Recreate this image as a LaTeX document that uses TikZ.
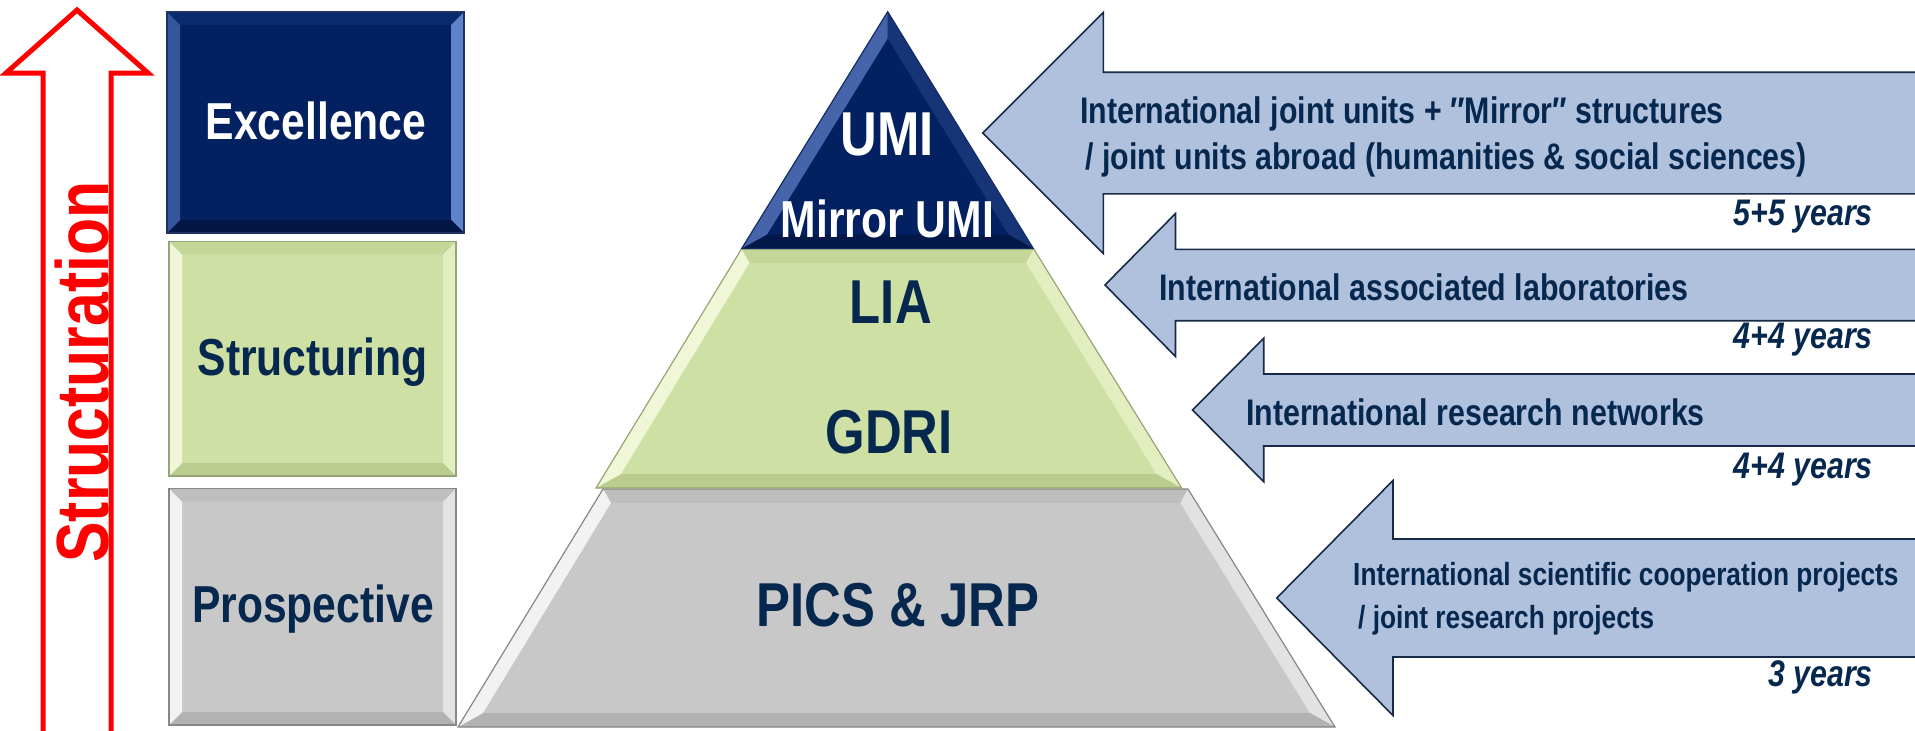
\documentclass[tikz,border=0pt]{standalone}
\usepackage{fontspec}
\newfontfamily\nar[FakeStretch=0.82]{Liberation Sans}
\definecolor{txt}{RGB}{6,40,78}
\definecolor{arrfill}{RGB}{176,193,221}
\definecolor{arrline}{RGB}{22,42,72}
\definecolor{redarrow}{RGB}{255,0,0}
% Excellence / navy
\definecolor{exb}{RGB}{3,33,96}\definecolor{ext}{RGB}{10,42,110}
\definecolor{exr}{RGB}{95,130,200}\definecolor{exd}{RGB}{2,22,70}
\definecolor{exl}{RGB}{55,85,155}\definecolor{exo}{RGB}{30,50,100}
% green
\definecolor{stb}{RGB}{206,224,164}\definecolor{stt}{RGB}{196,214,152}
\definecolor{str}{RGB}{226,238,192}\definecolor{std}{RGB}{186,204,142}
\definecolor{stl}{RGB}{240,247,214}\definecolor{sto}{RGB}{150,165,120}
% grey
\definecolor{prb}{RGB}{200,200,200}\definecolor{prt}{RGB}{190,190,190}
\definecolor{prr}{RGB}{226,226,226}\definecolor{prd}{RGB}{178,178,178}
\definecolor{prl}{RGB}{242,242,242}\definecolor{pro}{RGB}{135,135,135}
% UMI triangle
\definecolor{umb}{RGB}{3,33,96}\definecolor{umt}{RGB}{3,33,96}
\definecolor{umr}{RGB}{22,52,118}\definecolor{umd}{RGB}{2,24,72}
\definecolor{uml}{RGB}{70,100,170}\definecolor{umo}{RGB}{20,45,100}

\newcommand\bevrect[6]{%
 \fill[#6b] (#1,#2) rectangle (#3,#4);
 \fill[#6t] (#1,#2) -- (#3,#2) -- ({#3-#5},{#2+#5}) -- ({#1+#5},{#2+#5}) -- cycle;
 \fill[#6r] (#3,#2) -- (#3,#4) -- ({#3-#5},{#4-#5}) -- ({#3-#5},{#2+#5}) -- cycle;
 \fill[#6d] (#3,#4) -- (#1,#4) -- ({#1+#5},{#4-#5}) -- ({#3-#5},{#4-#5}) -- cycle;
 \fill[#6l] (#1,#4) -- (#1,#2) -- ({#1+#5},{#2+#5}) -- ({#1+#5},{#4-#5}) -- cycle;
 \draw[#6o, line width=1.2] (#1,#2) rectangle (#3,#4);}
\newcommand\bevquad[9]{%
 \fill[#9b] (#1) -- (#2) -- (#3) -- (#4) -- cycle;
 \fill[#9t] (#1) -- (#2) -- (#6) -- (#5) -- cycle;
 \fill[#9r] (#2) -- (#3) -- (#7) -- (#6) -- cycle;
 \fill[#9d] (#3) -- (#4) -- (#8) -- (#7) -- cycle;
 \fill[#9l] (#4) -- (#1) -- (#5) -- (#8) -- cycle;
 \draw[#9o, line width=1.2] (#1) -- (#2) -- (#3) -- (#4) -- cycle;}
\newcommand\blockarrow[5]{% tipx tipy headx halfhead halfshaft
 \filldraw[barrow] (#1,#2) -- (#3,{#2-#4}) -- (#3,{#2-#5}) -- (1930,{#2-#5})
   -- (1930,{#2+#5}) -- (#3,{#2+#5}) -- (#3,{#2+#4}) -- cycle;}

\tikzset{
  barrow/.style={fill=arrfill, draw=arrline, line width=1.6, line join=miter},
  boxtext/.style={font=\nar\bfseries\fontsize{52}{60}\selectfont, inner sep=0, anchor=base},
  pyrtext/.style={font=\nar\bfseries\fontsize{62}{70}\selectfont, inner sep=0, anchor=base},
  arrtext/.style={font=\nar\bfseries\fontsize{37}{46}\selectfont, text=txt, inner sep=0, anchor=base west},
  yeartext/.style={font=\nar\bfseries\itshape\fontsize{37}{44}\selectfont, text=txt, inner sep=0, anchor=base east},
}

\begin{document}
\begin{tikzpicture}[x=1pt,y=-1pt]
\useasboundingbox (0,0) rectangle (1915,731);

% red structuration arrow
\draw[redarrow, line width=5, line join=miter, fill=white]
  (43,740) -- (43,73) -- (6,73) -- (77,10) -- (148,73) -- (111,73) -- (111,740);
\node[rotate=90, anchor=base, inner sep=0, text=redarrow,
      font=\nar\bfseries\fontsize{74}{80}\selectfont] (structuration) at (108,372) {Structuration};

% left boxes
\bevrect{167}{12}{464}{233}{13}{ex}
\bevrect{169}{241.5}{456}{476}{13}{st}
\bevrect{169}{488.6}{456}{725}{13}{pr}
\node[boxtext, text=white] (excellence) at (316,139) {Excellence};
\node[boxtext, text=txt] (structuring) at (312.5,375.3) {Structuring};
\node[boxtext, text=txt] (prospective) at (313,622.4) {Prospective};

% pyramid
\bevquad{603,489}{1188,489}{1335,727}{458,727}{610.9,503}{1180.3,503}{1310,713}{483,713}{pr}
\bevquad{741.5,249}{1033.8,249}{1181.6,488}{596,488}{749.4,263}{1026.1,263}{1156.5,474}{620.9,474}{st}
\bevquad{887.7,11.7}{887.7,11.7}{1033.3,248.5}{741.7,248.5}{887.7,38.4}{887.7,38.4}{1008.4,234.5}{767,234.5}{um}
\node[pyrtext, text=white] (umi) at (887.5,155) {UMI};
\node[boxtext, text=white] (mirror) at (887.5,237.3) {Mirror UMI};
\node[pyrtext, text=txt] (lia) at (890.8,323.3) {LIA};
\node[pyrtext, text=txt] (gdri) at (889,453.3) {GDRI};
\node[pyrtext, text=txt] (pics) at (898,626.7) {PICS \& JRP};

% block arrows
\blockarrow{982.7}{133}{1103.3}{120.5}{60.8}
\blockarrow{1105}{285}{1175.5}{71.5}{35.7}
\blockarrow{1192.5}{410}{1263.7}{71.7}{36}
\blockarrow{1276.7}{598}{1393}{117.5}{59}

\node[arrtext] (t1) at (1080,123.3) {\parbox[t]{800pt}{International joint units + ″Mirror″ structures\\\hspace*{5pt}/ joint units abroad (humanities \& social sciences)}};
\node[arrtext] (t2) at (1159,300) {International associated laboratories};
\node[arrtext] (t3) at (1246,425) {International research networks};
\node[arrtext, font=\nar\bfseries\fontsize{32}{43.3}\selectfont] (t4) at (1353,585) {\parbox[t]{600pt}{International scientific cooperation projects\\\hspace*{5pt}/ joint research projects}};

\node[yeartext] (y1) at (1873,225) {5+5 years};
\node[yeartext] (y2) at (1873,348.3) {4+4 years};
\node[yeartext] (y3) at (1873,478) {4+4 years};
\node[yeartext] (y4) at (1873,686.7) {3 years};
\end{tikzpicture}
\end{document}
